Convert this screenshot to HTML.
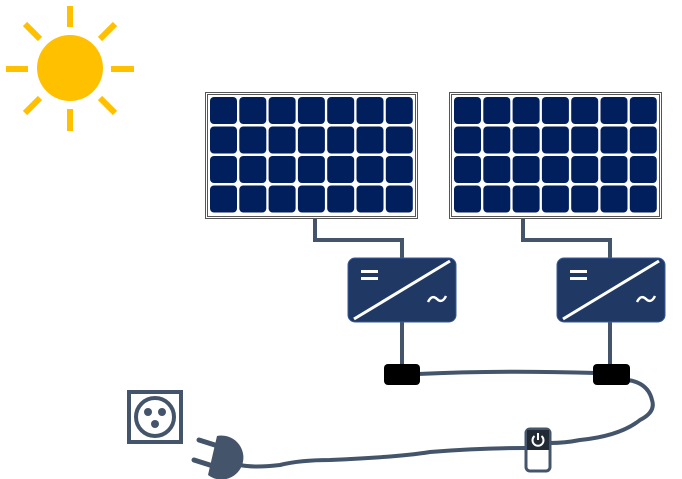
<!DOCTYPE html>
<html><head><style>body{margin:0;background:#fff}svg{display:block}</style></head><body>
<svg width="682" height="479" viewBox="0 0 682 479" xmlns="http://www.w3.org/2000/svg">
<defs>
<g id="panel">
<rect x="0.5" y="0.5" width="212" height="126" fill="#fff" stroke="#555" stroke-width="1"/>
<rect x="2.5" y="2.5" width="208" height="122" fill="#fff" stroke="#555" stroke-width="1"/>
<g fill="#001F5C">
<g id="row">
<rect x="5" y="5" width="27" height="27" rx="4"/><rect x="34.3" y="5" width="27" height="27" rx="4"/><rect x="63.6" y="5" width="27" height="27" rx="4"/><rect x="92.9" y="5" width="27" height="27" rx="4"/><rect x="122.2" y="5" width="27" height="27" rx="4"/><rect x="151.5" y="5" width="27" height="27" rx="4"/><rect x="180.8" y="5" width="27" height="27" rx="4"/>
</g>
<use href="#row" y="29.5"/><use href="#row" y="59"/><use href="#row" y="88.5"/>
</g>
</g>
<g id="inv">
<rect x="0" y="0" width="108" height="64" rx="7" fill="#203864" stroke="#3a5a9a" stroke-width="1"/>
<line x1="102" y1="3" x2="6" y2="61" stroke="#fff" stroke-width="3"/>
<rect x="13" y="12" width="17" height="3" fill="#fff"/><rect x="13" y="19" width="17" height="3" fill="#fff"/>
<path d="M80,44 Q84,36 89,41 Q94,46 98,38" fill="none" stroke="#fff" stroke-width="2.5"/>
</g>
</defs>
<!-- sun -->
<g stroke="#FFC000" stroke-width="6" fill="#FFC000">
<circle cx="70" cy="68" r="33" stroke="none"/>
<line x1="70" y1="6" x2="70" y2="27"/><line x1="70" y1="109" x2="70" y2="131"/>
<line x1="6" y1="69" x2="28" y2="69"/><line x1="111" y1="69" x2="134" y2="69"/>
<line x1="25" y1="24" x2="40" y2="39"/><line x1="100" y1="98" x2="115" y2="113"/>
<line x1="115" y1="24" x2="100" y2="39"/><line x1="40" y1="98" x2="25" y2="113"/>
</g>
<!-- wires -->
<g fill="none" stroke="#44546A" stroke-width="4">
<polyline points="315,219 315,240 402,240 402,260"/>
<polyline points="523,219 523,240 610,240 610,260"/>
<line x1="402" y1="322" x2="402" y2="368"/>
<line x1="610" y1="322" x2="610" y2="368"/>
<path d="M418,374 Q500,370 596,373"/>
<path d="M628,380 Q648,383 652,400 Q656,412 640,420 Q620,436 580,440 Q565,443 550,443"/>
<path d="M525,448 Q480,448 430,452 Q400,457 330,460 Q300,460 280,465 Q255,468 240,465"/>
</g>
<use href="#panel" x="205" y="92"/>
<use href="#panel" x="449" y="92"/>
<use href="#inv" x="348" y="258"/>
<use href="#inv" x="557" y="258"/>
<rect x="384" y="364" width="36" height="21" rx="4" fill="#000"/>
<rect x="593" y="364" width="37" height="21" rx="4" fill="#000"/>
<!-- switch -->
<rect x="526" y="429" width="24" height="42" rx="4" fill="#fff" stroke="#44546A" stroke-width="3"/>
<rect x="527" y="430" width="22" height="20" fill="#222a35"/>
<path d="M534.5,436 A5.5,5.5 0 1 0 541.5,436" fill="none" stroke="#fff" stroke-width="2"/>
<line x1="538" y1="433" x2="538" y2="440" stroke="#fff" stroke-width="2"/>
<!-- socket -->
<rect x="129" y="392" width="52" height="50" fill="#fff" stroke="#44546A" stroke-width="4"/>
<circle cx="155" cy="417" r="19" fill="none" stroke="#44546A" stroke-width="4"/>
<circle cx="148" cy="412" r="4" fill="#44546A"/><circle cx="162" cy="412" r="4" fill="#44546A"/><circle cx="155" cy="424" r="4" fill="#44546A"/>
<!-- plug -->
<g fill="#44546A">
<path d="M217,436 A22,22 0 1 1 208,475 Z"/>
<line x1="199" y1="440" x2="218" y2="446" stroke="#44546A" stroke-width="5" stroke-linecap="round"/>
<line x1="194" y1="460" x2="213" y2="466" stroke="#44546A" stroke-width="5" stroke-linecap="round"/>
</g>
</svg>
</body></html>
